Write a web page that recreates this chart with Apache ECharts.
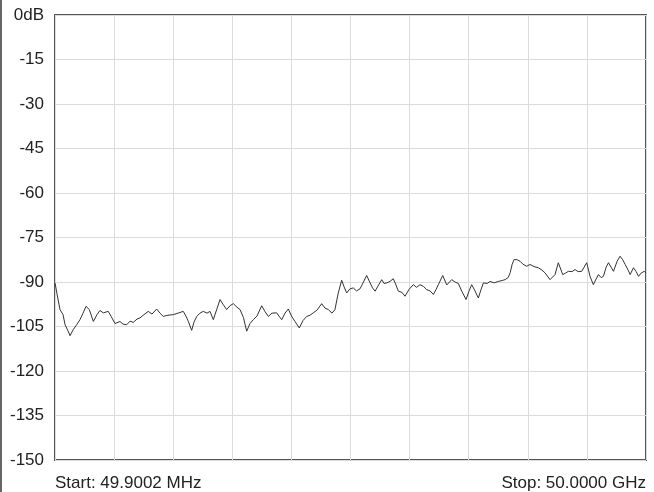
<!DOCTYPE html>
<html>
<head>
<meta charset="utf-8">
<script src="https://cdn.jsdelivr.net/npm/echarts@6/dist/echarts.min.js"></script>
<style>
html,body{margin:0;padding:0;background:#fff;}
#chart{width:654px;height:492px;}
</style>
</head>
<body>
<div id="chart"></div>
<script>
// Sweep limits (GHz)
var START_GHZ = 0.0499002;
var STOP_GHZ = 50.0;
var START_LABEL = 'Start: 49.9002 MHz';
var STOP_LABEL = 'Stop: 50.0000 GHz';

// Y axis ticks (dB)
var yTicks = [0, -15, -30, -45, -60, -75, -90, -105, -120, -135, -150];

// Trace: frequency (GHz) and level (dB)
var freqGHz = [
0.05,0.22,0.47,0.73,0.90,1.15,1.32,1.60,1.88,2.16,2.42,2.67,2.95,3.29,3.60,3.85,4.13,4.55,4.78,5.12,
5.54,5.80,6.11,6.39,6.67,6.98,7.23,7.57,7.93,8.25,8.64,8.92,9.20,9.60,10.05,10.45,10.89,11.12,11.32,11.60,
11.80,12.03,12.30,12.58,12.90,13.15,13.43,13.74,14.00,14.25,14.56,14.84,15.12,15.43,15.69,15.98,16.25,16.53,16.81,17.12,
17.52,17.80,18.08,18.39,18.79,18.98,19.21,19.49,19.77,20.04,20.33,20.70,21.01,21.32,21.60,21.88,22.19,22.59,22.87,23.15,
23.46,23.71,23.99,24.28,24.47,24.70,24.98,25.26,25.53,25.83,26.12,26.39,26.68,26.89,27.10,27.40,27.67,27.86,28.09,28.36,
28.64,28.87,29.07,29.38,29.63,29.97,30.33,30.61,30.90,31.20,31.47,31.75,32.03,32.26,32.45,32.82,33.16,33.58,33.86,34.14,
34.43,34.79,35.05,35.27,35.55,35.83,36.06,36.26,36.57,36.82,37.16,37.52,37.84,38.09,38.35,38.52,38.69,38.86,39.11,39.35,
39.60,39.91,40.20,40.53,40.90,41.21,41.46,41.89,42.31,42.59,42.96,43.20,43.44,43.75,44.00,44.26,44.57,44.77,44.99,45.27,
45.55,45.78,45.98,46.21,46.40,46.63,46.83,47.05,47.25,47.56,47.81,48.03,48.24,48.49,48.66,48.94,49.17,49.37,49.59,49.85,
50.00
];
var levelDb = [
-90.3,-94,-99.3,-101,-104.4,-106.5,-108.1,-106,-104.4,-102.7,-100.5,-98.2,-99.3,-103.3,-101,-99.6,-100.4,-99.9,-101.5,-104,
-103.3,-104.2,-104.4,-103.2,-103.6,-102.5,-102.1,-101,-99.9,-100.8,-99.1,-100.5,-101.6,-101.2,-101,-100.5,-99.9,-101.5,-103.3,-106.3,
-103.5,-101.6,-100.5,-99.9,-100.5,-99.9,-102.7,-99,-95.9,-97.5,-99.3,-98,-97.3,-98.5,-99.3,-102,-106.6,-104,-102.7,-101.5,
-98,-100,-101.6,-100.5,-100.4,-101.5,-102.7,-100.5,-99.1,-101.5,-103.3,-105.5,-103,-101.6,-101.2,-100.4,-99.5,-97.3,-98.8,-99.3,
-100.5,-99.3,-93.7,-89.4,-91.5,-93.7,-92.3,-92,-93,-92.3,-90,-87.8,-90.3,-92,-93.1,-91,-89.2,-90.5,-90.3,-89.8,
-88.9,-91,-93.1,-93.5,-94.8,-92.5,-90.9,-91.8,-90.9,-91.5,-92.6,-93,-94.2,-92.5,-90.9,-87.8,-91,-89.2,-90,-90.5,
-93.1,-95.9,-93,-90.9,-93,-95.4,-92.5,-90.3,-90.5,-89.8,-90.3,-89.8,-89.5,-89.2,-88.5,-86.9,-84,-82.4,-82.5,-83,
-84,-84.7,-84.1,-84.8,-85.2,-86,-86.9,-89.2,-87.5,-83.5,-87.5,-87,-86.4,-86.5,-85.8,-86.5,-86.4,-85,-83.5,-88.1,
-90.9,-89,-87.5,-88.5,-88.1,-85,-83.5,-85,-86.4,-83,-81.3,-82.5,-84.1,-86,-87.5,-85.2,-86.5,-88.1,-87,-86.4,
-87
];

var traceData = freqGHz.map(function (f, i) { return [f, levelDb[i]]; });

var FONT = "'Liberation Sans', Arial, sans-serif";
var chart = echarts.init(document.getElementById('chart'), null, {renderer: 'canvas'});
chart.setOption({
  animation: false,
  backgroundColor: '#fff',
  grid: {
    left: 55, top: 15, width: 591, height: 445,
    show: true, borderColor: '#555', borderWidth: 2, backgroundColor: 'transparent'
  },
  xAxis: {
    type: 'value',
    min: START_GHZ, max: STOP_GHZ,
    interval: (STOP_GHZ - START_GHZ) / 10,
    axisLine: {show: false}, axisTick: {show: false}, axisLabel: {show: false},
    splitLine: {show: true, lineStyle: {color: '#dcdcdc', width: 1}}
  },
  yAxis: {
    type: 'value',
    min: yTicks[yTicks.length - 1], max: yTicks[0], interval: 15,
    axisLine: {show: false}, axisTick: {show: false},
    axisLabel: {
      margin: 11, color: '#222', fontSize: 17, fontFamily: FONT,
      formatter: function (v) { return v === 0 ? '0dB' : String(v); }
    },
    splitLine: {show: true, lineStyle: {color: '#dcdcdc', width: 1}}
  },
  series: [{
    type: 'line',
    data: traceData,
    showSymbol: false,
    symbol: 'none',
    lineStyle: {color: '#333', width: 1},
    z: 3
  }],
  graphic: [
    {type: 'rect', left: 0, top: 0, shape: {x: 0, y: 0, width: 2, height: 492}, style: {fill: '#666'}},
    {type: 'text', left: 55, top: 475, style: {text: START_LABEL, fill: '#222', font: '17px ' + FONT}},
    {type: 'text', right: 8, top: 475, style: {text: STOP_LABEL, fill: '#222', font: '17px ' + FONT}}
  ]
});
</script>
</body>
</html>
